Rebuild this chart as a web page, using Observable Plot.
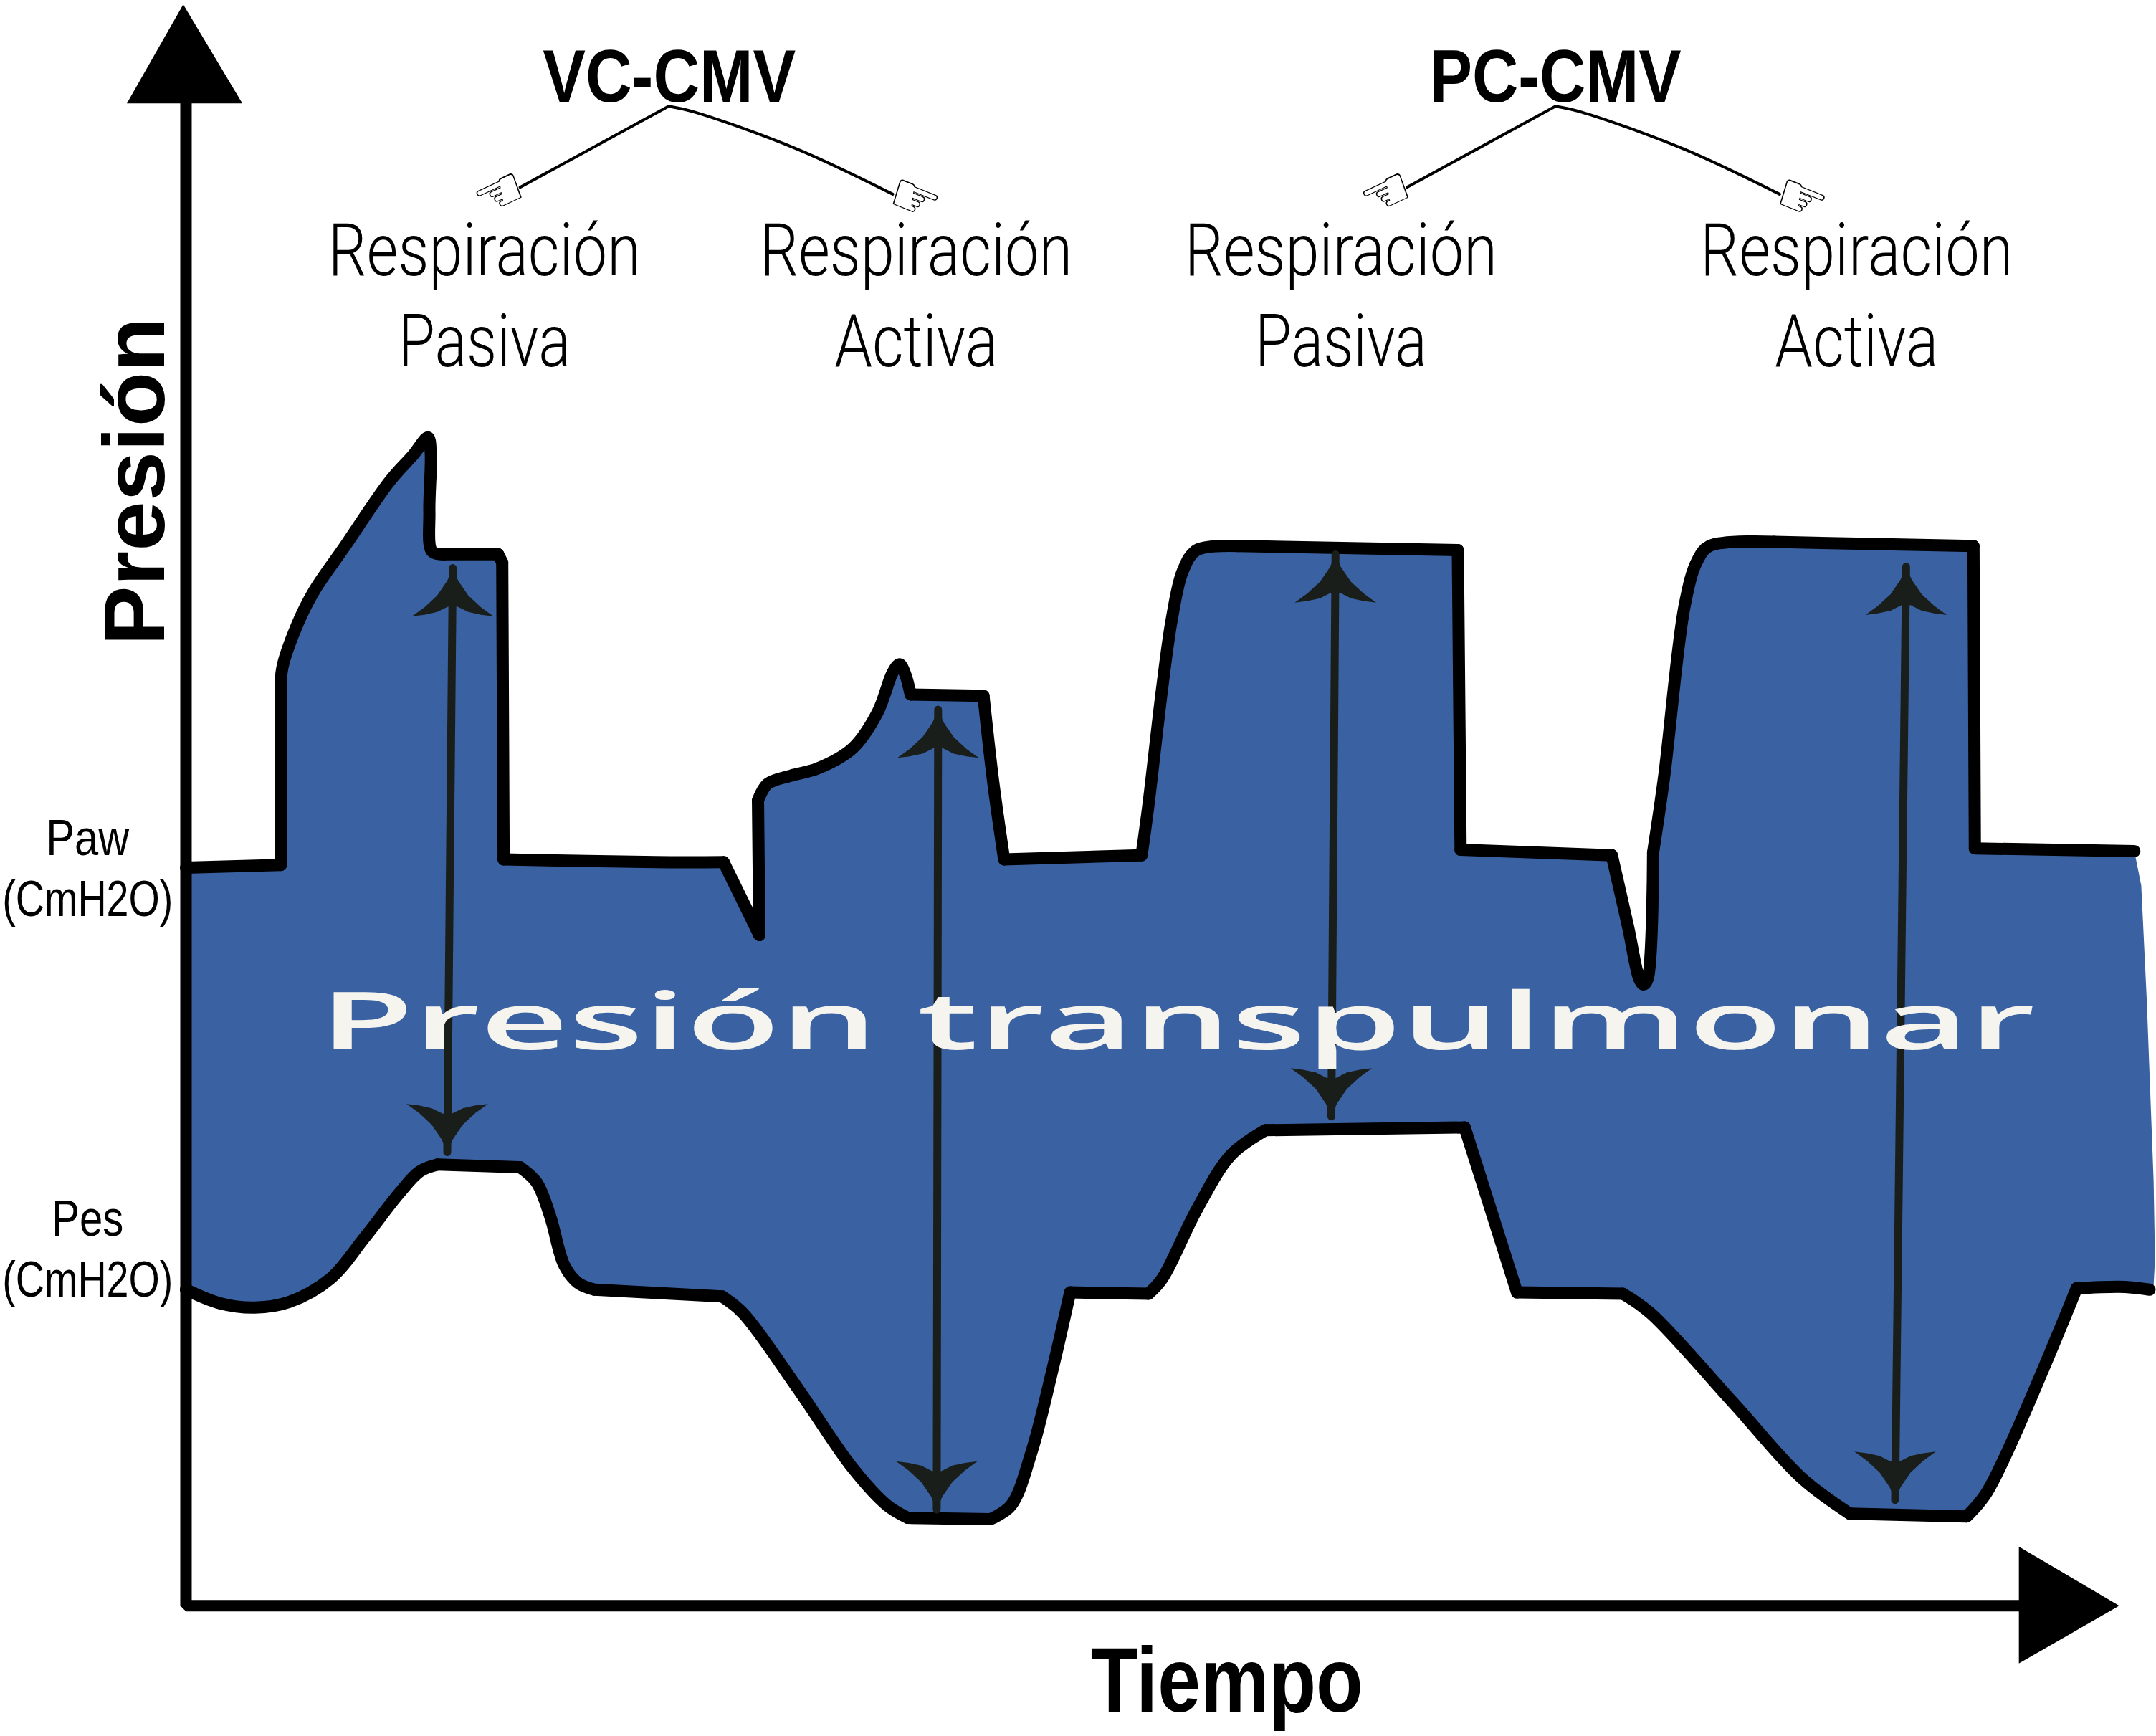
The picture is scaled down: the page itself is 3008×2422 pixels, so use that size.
<!DOCTYPE html>
<html><head><meta charset="utf-8">
<script src="https://cdn.jsdelivr.net/npm/d3@7"></script>
<script src="https://cdn.jsdelivr.net/npm/@observablehq/plot@0.6"></script>
<style>html,body{margin:0;padding:0;background:#fff}svg{display:block}</style>
</head><body><div id="chart"></div>
<script>
// Waveforms (time, pressure in reading units)
const pawTime = [135,204,204,205,216,228,250,283,300,311,313,312,314,323,362,365,366,477,526,552,551,558,575,594,620,638,649,654,658,662,715,722,730,830,835,845,852,860,870,900,1060,1062,1172,1184,1192,1195,1198,1202,1210,1225,1234,1243,1290,1435,1436,1552];
const pawPressure = [632,634,753,777,809,833,865,913,932,945,934,891,862,860,860,854,638,636,636,583,681,693,699,704,719,745,774,780,773,758,757,695,638,641,678,763,813,848,863,866,863,645,641,588,551,547,551,643,698,823,855,866,869,866,646,644];
const pawCorners = [1,2,13,14,15,16,18,19,20,29,30,32,33,39,40,41,42,47,52,53,54];
const pesTime = [135,160,185,210,240,265,290,305,318,378,390,400,410,420,432,525,540,580,620,645,660,720,735,750,765,778,835,845,870,895,920,1065,1103,1180,1200,1260,1310,1345,1430,1445,1510,1545,1563];
const pesPressure = [325,315,312,316,333,363,395,411,416,414,403,378,343,330,325,320,308,253,195,168,159,158,168,207,266,323,322,333,383,423,441,443,323,322,308,243,188,162,160,178,326,327,325];
const pesCorners = [8,9,14,15,20,21,25,26,30,31,32,33,37,38,40];
const edgeTime = [1557,1561,1566,1567,1566];
const edgePressure = [619,536,404,347,328];

// Double arrows between the two waveforms
const spanTopTime = [329,682,971,1386];
const spanTopPressure = [850,747,860,851];
const spanBottomTime = [325,681,968,1378];
const spanBottomPressure = [425,165,451,172];
const headDt = [0,-4,-11.3,-20.5,-29.6,-20.5,-11.3,-3.3,3.3,11.3,20.5,29.6,20.5,11.3,4];
const headDp = [0,9.3,20,28.5,35.1,34,32,28,28,32,34,35.1,28.5,20,9.3];

// Axes
const axisTime = [135,135,1470];
const axisPressure = [1190,95,95];
const yArrowTime = [133,92,176];
const yArrowPressure = [1260,1188,1188];
const xArrowTime = [1468,1468,1541];
const xArrowPressure = [138,53,95];

// Brackets from the mode names to the pointing hands
const branchOffsets = [0,645];
const branchTime = [378,486,504,579,649];
const branchPressure = [1127,1186,1182,1155,1122];
const branchCorners = [1];
const leftHandTime = [363,1008];
const rightHandTime = [665,1310];
const leftHandPressure = 1122;
const rightHandPressure = 1118;

// Text
const modeLabels = ["VC-CMV","PC-CMV"];
const modeTime = [486.5,1131];
const modePressure = 1189;
const breathLabels = ["Respiración","Respiración","Respiración","Respiración"];
const kindLabels = ["Pasiva","Activa","Pasiva","Activa"];
const breathTime = [352,666,975,1350];
const breathPressure = 1063;
const kindPressure = 997;
const unitLabels = ["Paw","(CmH2O)","Pes","(CmH2O)"];
const unitPressure = [641,597,364,320];
const unitTime = 63.5;

const widths = {"VC-CMV":353,"PC-CMV":351,"Respiración":436,"Pasiva":240,"Activa":228,"Paw":116,"Pes":100,"(CmH2O)":238,"Tiempo":380,"Presión":458,"Presión transpulmonar":2394};

const zip = (xs, ys) => xs.map((x, i) => ({t: x, p: ys[i]}));
// Cut a traced line at its sharp corners so that only the stretches between them are smoothed
const sections = (xs, ys, corners) => {
  const rows = [];
  let s = 0;
  xs.forEach((t, i) => {
    rows.push({t, p: ys[i], s});
    if (corners.includes(i)) { s++; rows.push({t, p: ys[i], s}); }
  });
  return rows;
};
const paw = zip(pawTime, pawPressure);
const pes = zip(pesTime, pesPressure);
const band = [...paw, ...zip(edgeTime, edgePressure), ...pes.slice().reverse()];
const ink = "#1a1e1a", blue = "#3a62a2", sans = "Liberation Sans, Arial, sans-serif";

const shafts = spanTopTime.map((t, i) => [
  {t, p: spanTopPressure[i]}, {t: spanBottomTime[i], p: spanBottomPressure[i]}
]);
const head = (t, p, dir) => headDt.map((d, i) => ({t: t + d, p: p - dir * headDp[i]}));
const heads = spanTopTime.flatMap((t, i) => [
  head(t, spanTopPressure[i], 1),
  head(spanBottomTime[i], spanBottomPressure[i], -1)
]);

const tline = (data, o) => Plot.line(data, {x: "t", y: "p", ...o});
const label = (text, t, p, o) => Plot.text(text.map((s, i) => ({s, t: Array.isArray(t) ? t[i] : t, p: Array.isArray(p) ? p[i] : p})),
  {x: "t", y: "p", text: "s", lineAnchor: "bottom", textAnchor: "middle", fontFamily: sans, fill: "#000", className: "fit", ...o});
const wave = {stroke: "#000", strokeWidth: 17, strokeLinejoin: "round", strokeLinecap: "round", curve: "catmull-rom", z: "s"};

const chart = Plot.plot({
  width: 3008, height: 2422, margin: 0,
  style: {background: "#fff", maxWidth: "none"},
  x: {axis: null, domain: [0, 1568], range: [0, 3008]},
  y: {axis: null, domain: [0, 1263], range: [2422, 0]},
  marks: [
    tline(band, {fill: blue, stroke: "none"}),
    tline(sections(pawTime, pawPressure, pawCorners), wave),
    tline(sections(pesTime, pesPressure, pesCorners), wave),
    ...shafts.map(s => tline(s, {stroke: ink, strokeWidth: 11})),
    ...heads.map(h => tline(h, {fill: ink, stroke: "none"})),
    label(["Presión transpulmonar"], 856, 500, {fontFamily: "Open Sans", fontSize: 110, fontWeight: 600, fill: "#f6f4ee"}),
    tline(zip(axisTime, axisPressure), {stroke: "#000", strokeWidth: 16, strokeLinejoin: "miter"}),
    tline(zip(yArrowTime, yArrowPressure), {fill: "#000", stroke: "none"}),
    tline(zip(xArrowTime, xArrowPressure), {fill: "#000", stroke: "none"}),
    ...branchOffsets.map(d => tline(sections(branchTime.map(t => t + d), branchPressure, branchCorners), {stroke: "#000", strokeWidth: 4, curve: "catmull-rom", z: "s", strokeLinecap: "round"})),
    Plot.text(leftHandTime, {x: d => d, y: () => leftHandPressure, text: () => "\u261C", rotate: -25, fontFamily: "DejaVu Sans", fontSize: 80, fill: "#000"}),
    Plot.text(rightHandTime, {x: d => d, y: () => rightHandPressure, text: () => "\u261E", rotate: 22, fontFamily: "DejaVu Sans", fontSize: 80, fill: "#000"}),
    label(modeLabels, modeTime, modePressure, {fontSize: 104, fontWeight: 700}),
    label(breathLabels, breathTime, breathPressure, {fontFamily: "Roboto", fontWeight: 300, fontSize: 102}),
    label(kindLabels, breathTime, kindPressure, {fontFamily: "Roboto", fontWeight: 300, fontSize: 102}),
    label(unitLabels, unitTime, unitPressure, {fontSize: 70}),
    label(["Tiempo"], 892, 18, {fontSize: 128, fontWeight: 700}),
    label(["Presión"], 119, 913, {fontSize: 120, fontWeight: 700, rotate: -90})
  ]
});
document.getElementById("chart").append(chart);
d3.select(chart).selectAll(".fit text").each(function () {
  const w = widths[this.textContent];
  if (w) { this.setAttribute("textLength", w); this.setAttribute("lengthAdjust", "spacingAndGlyphs"); }
});
</script></body></html>
